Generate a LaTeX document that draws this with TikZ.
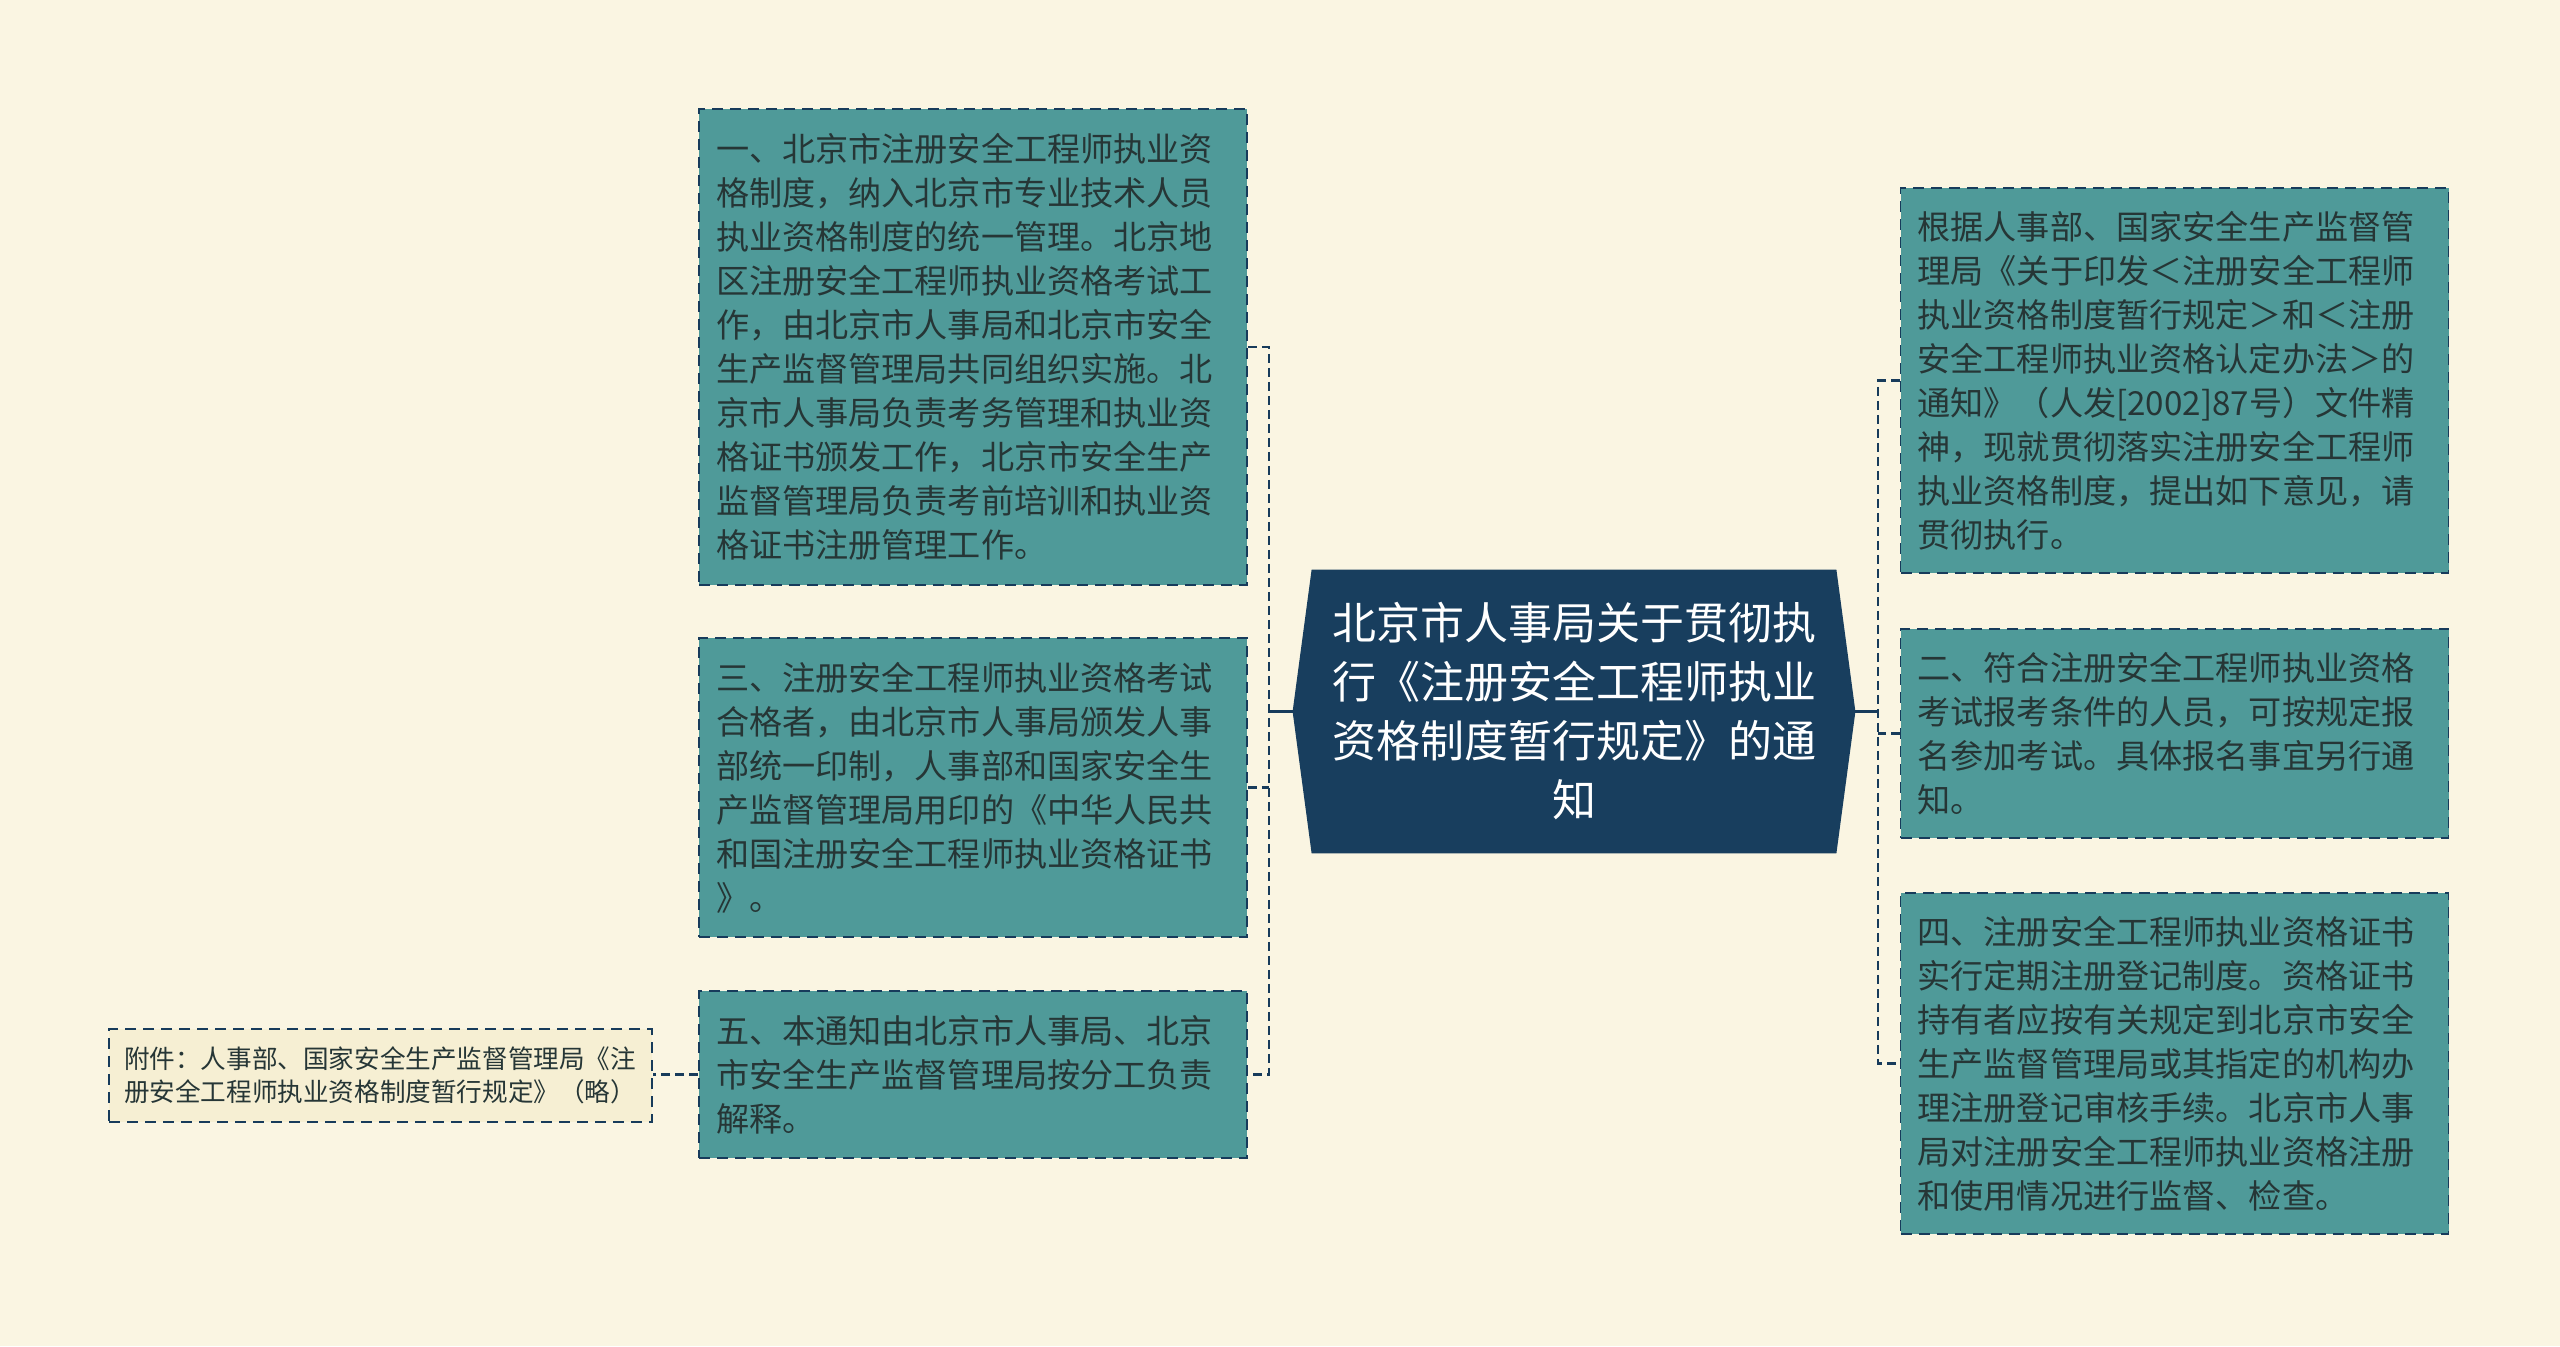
\documentclass[tikz,border=0pt]{standalone}
\usepackage{fontspec}
\setmainfont{Noto Sans CJK SC}
\usetikzlibrary{calc,backgrounds}

\definecolor{paper}{HTML}{FAF5E2}
\definecolor{boxteal}{HTML}{4F9A99}
\definecolor{boxline}{HTML}{173B5B}
\definecolor{navy}{HTML}{183E5E}
\definecolor{ink}{HTML}{263636}
\definecolor{notefill}{HTML}{F6EFD3}

\begin{document}
\begin{tikzpicture}[x=0.5pt,y=-0.5pt,
    item/.style={draw=boxline,fill=boxteal,line width=0.9pt,dash pattern=on 5.5pt off 3.5pt,
      text=ink,font=\fontsize{16.57pt}{22pt}\selectfont,align=left,
      inner xsep=8.5pt,inner ysep=0pt,text width=257pt,minimum width=274pt},
    note/.style={draw=boxline,fill=notefill,line width=0.9pt,dash pattern=on 5.5pt off 3.5pt,
      text=ink,font=\fontsize{12.8pt}{16.3pt}\selectfont,align=left,
      inner xsep=7.5pt,inner ysep=0pt,text width=256.5pt,minimum width=271.5pt,minimum height=46.5pt},
    topic/.style={text=white,font=\fontsize{22pt}{29.5pt}\selectfont,align=center,
      inner sep=0pt,text width=262pt,minimum width=262pt,minimum height=141.5pt},
    link/.style={draw=boxline,line width=1.4pt,dash pattern=on 4.5pt off 2.5pt},
    trunk/.style={draw=boxline,line width=1.4pt}]

  \useasboundingbox (0,0) rectangle (2560,1346);

  \node[topic] (root) at (1574,711.5) {北京市人事局关于贯彻执\\行《注册安全工程师执业\\资格制度暂行规定》的通\\知};

  \begin{pgfonlayer}{background}
    \fill[paper] (0,0) rectangle (2560,1346);
    \fill[navy] (root.north west) -- (root.north east) -- ($(root.east)+(19,0)$)
      -- (root.south east) -- (root.south west) -- ($(root.west)+(-19,0)$) -- cycle;
  \end{pgfonlayer}

  \coordinate (lw) at ($(root.west)+(-19,0)$);
  \coordinate (re) at ($(root.east)+(19,0)$);
  \coordinate (lbus) at (1269,711.5);
  \coordinate (rbus) at (1878,711.5);

  \node[item,minimum height=238pt] (l1) at (973,347) {一、北京市注册安全工程师执业资\\格制度，纳入北京市专业技术人员\\执业资格制度的统一管理。北京地\\区注册安全工程师执业资格考试工\\作，由北京市人事局和北京市安全\\生产监督管理局共同组织实施。北\\京市人事局负责考务管理和执业资\\格证书颁发工作，北京市安全生产\\监督管理局负责考前培训和执业资\\格证书注册管理工作。};
  \node[item,minimum height=149.5pt] (l3) at (973,787.5) {三、注册安全工程师执业资格考试\\合格者，由北京市人事局颁发人事\\部统一印制，人事部和国家安全生\\产监督管理局用印的《中华人民共\\和国注册安全工程师执业资格证书\\》。};
  \node[item,minimum height=83.5pt] (l5) at (973,1074.5) {五、本通知由北京市人事局、北京\\市安全生产监督管理局按分工负责\\解释。};
  \node[note] (att) at (380.5,1075.5) {附件：人事部、国家安全生产监督管理局《注\\册安全工程师执业资格制度暂行规定》（略）};

  \node[item,minimum height=192.5pt] (r0) at (2174.5,380.5) {根据人事部、国家安全生产监督管\\理局《关于印发＜注册安全工程师\\执业资格制度暂行规定＞和＜注册\\安全工程师执业资格认定办法＞的\\通知》（人发[2002]87号）文件精\\神，现就贯彻落实注册安全工程师\\执业资格制度，提出如下意见，请\\贯彻执行。};
  \node[item,minimum height=104.5pt] (r2) at (2174.5,733.5) {二、符合注册安全工程师执业资格\\考试报考条件的人员，可按规定报\\名参加考试。具体报名事宜另行通\\知。};
  \node[item,minimum height=170.5pt] (r4) at (2174.5,1063.5) {四、注册安全工程师执业资格证书\\实行定期注册登记制度。资格证书\\持有者应按有关规定到北京市安全\\生产监督管理局或其指定的机构办\\理注册登记审核手续。北京市人事\\局对注册安全工程师执业资格注册\\和使用情况进行监督、检查。};

  \draw[trunk] (lw) -- (lbus);
  \draw[link] (l1.east) -- (l1.east -| lbus) -- (l5.east -| lbus) -- (l5.east);
  \draw[link] (l3.east) -- (l3.east -| lbus);
  \draw[link] (l5.west) -- (l5.west -| att.east);

  \draw[trunk] (re) -- (rbus);
  \draw[link] (r0.west) -- (r0.west -| rbus) -- (r4.west -| rbus) -- (r4.west);
  \draw[link] (r2.west) -- (r2.west -| rbus);
\end{tikzpicture}
\end{document}
